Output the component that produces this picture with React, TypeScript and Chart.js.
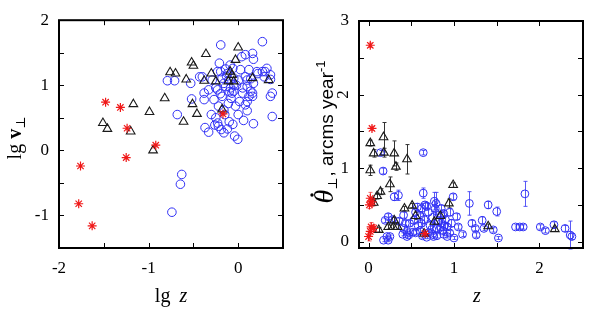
import React, { useEffect, useRef } from 'react';
import { Chart, registerables } from 'chart.js';
Chart.register(...registerables);

const SERIF = '"Liberation Serif", "DejaVu Serif", serif';
const SANS = '"Liberation Sans", Arial, sans-serif';

// ---------- Left panel: lg z vs lg v_perp ----------
const leftXTicks = [-2, -1, 0];
const leftXMinor = [-1.5, -0.5];
const leftYTicks = [-1, 0, 1, 2];
const leftYMinor = [-1.5, -0.5, 0.5, 1.5];

const leftRedLgZ = [-1.48, -1.315, -1.24, -0.92, -0.17, -1.25, -1.76, -1.78, -1.63];
const leftRedLgV = [0.74, 0.66, 0.34, 0.08, 0.56, -0.11, -0.24, -0.82, -1.16];

const leftTriLgZ = [-1.51, -1.46, -1.17, -1.2, -0.99, -0.82, -0.95, -0.61, -0.76, -0.7, -0.58, -0.52, -0.5, -0.51, -0.46, -0.36, -0.38, -0.3, -0.25, -0.18, -0.09, -0.05, -0.03, 0.0, 0.16, 0.34, -0.11, -0.07];
const leftTriLgV = [0.42, 0.33, 0.71, 0.29, 0.59, 0.8, 0.0, 0.44, 1.2, 1.18, 1.09, 1.35, 1.3, 0.71, 0.56, 1.48, 1.07, 1.18, 1.06, 0.63, 1.21, 1.06, 1.39, 1.58, 1.11, 1.08, 1.06, 1.16];

const leftCircLgZ = [-0.195, 0.27, -0.21, -0.09, 0.08, 0.16, 0.17, 0.04, 0.12, 0.025, -0.06, -0.79, -0.71, -0.43, -0.53, -0.4, -0.38, -0.38, -0.52, -0.68, -0.27, -0.18, -0.085, -0.07, -0.05, 0.015, 0.1, 0.12, 0.16, 0.1, 0.36, 0.38, 0.38, 0.17, -0.06, -0.33, -0.37, -0.25, -0.23, -0.22, -0.19, -0.16, -0.04, -0.005, -0.29, -0.195, -0.18, -0.105, -0.05, 0.005, 0.1, 0.21, 0.27, 0.32, 0.36, 0.29, 0.17, 0.1, -0.23, -0.16, -0.33, -0.25, -0.14, -0.05, 0.14, 0.16, 0.08, -0.03, -0.63, -0.645, -0.74, -0.23, -0.12, 0.08, 0.22, 0.3, -0.14, -0.2, -0.1, -0.08, -0.11, 0.05, 0.05, -0.02, -0.3, -0.15, -0.1, 0.0, -0.26, -0.12, 0.06, -0.13, 0.14, 0.36, -0.22, -0.16];
const leftCircLgV = [1.62, 1.67, 1.34, 1.31, 1.47, 1.49, 1.4, 1.44, 1.24, 1.24, 1.26, 1.07, 1.07, 1.13, 1.03, 1.13, 0.88, 0.78, 0.79, 0.55, 0.78, 0.83, 0.96, 0.88, 1.01, 0.75, 0.75, 0.83, 0.88, 0.61, 0.83, 0.88, 0.52, 0.41, 0.4, 0.28, 0.35, 0.5, 0.42, 0.37, 0.32, 0.27, 0.22, 0.17, 1.08, 1.21, 1.11, 1.08, 1.11, 1.08, 1.08, 1.21, 1.21, 1.26, 1.16, 1.13, 1.03, 0.98, 0.93, 1.03, 0.93, 0.96, 0.98, 0.91, 0.91, 0.83, 0.7, 0.68, -0.37, -0.52, -0.95, 1.21, 1.18, 1.13, 1.18, 1.21, 1.25, 0.87, 0.9, 0.8, 0.72, 0.88, 0.96, 1.0, 0.55, 0.55, 0.44, 0.55, 0.39, 0.33, 0.46, 1.14, 1.1, 1.09, 0.68, 0.62];

// ---------- Right panel: z vs theta-dot ----------
const rightXTicks = [0, 1, 2];
const rightXMinor = [0.5, 1.5];
const rightYTicks = [0, 1, 2, 3];
const rightYMinor = [0.5, 1.5, 2.5];

const rightRedZ = [0.02, 0.04, 0.02, 0.04, 0.01, 0.03, 0.02, 0.0, 0.06, 0.66];
const rightRedT = [2.67, 1.54, 0.59, 0.54, 0.5, 0.2, 0.14, 0.07, 0.18, 0.11];
const rightRedErr = [0.03, 0.03, 0.08, 0.06, 0.05, 0.06, 0.05, 0.06, 0.05, 0.03];

const rightTriZ = [0.02, 0.06, 0.175, 0.18, 0.3, 0.32, 0.45, 0.02, 0.25, 0.14, 0.1, 0.06, 0.42, 0.51, 0.55, 0.3, 0.23, 0.29, 0.34, 0.12, 0.84, 0.77, 0.94, 0.99, 1.4, 2.18, 0.65];
const rightTriT = [1.34, 1.2, 1.42, 1.21, 1.2, 1.02, 1.12, 0.97, 0.78, 0.68, 0.62, 0.53, 0.45, 0.49, 0.35, 0.29, 0.2, 0.2, 0.2, 0.16, 0.35, 0.27, 0.52, 0.77, 0.21, 0.17, 0.11];
const rightTriErr = [0.04, 0.05, 0.2, 0.06, 0.17, 0.05, 0.2, 0.07, 0.1, 0.04, 0.04, 0.04, 0.03, 0.03, 0.05, 0.04, 0.03, 0.03, 0.03, 0.03, 0.05, 0.04, 0.06, 0.03, 0.03, 0.03, 0.02];

const rightCircZ = [0.14, 0.64, 0.17, 0.35, 0.3, 0.64, 1.18, 1.4, 1.5, 1.83, 1.03, 0.79, 0.99, 0.195, 0.175, 0.23, 0.45, 0.41, 0.57, 0.62, 0.66, 1.21, 1.25, 1.26, 1.33, 1.35, 1.46, 1.52, 1.0, 0.92, 1.72, 1.77, 1.81, 2.01, 2.07, 2.17, 2.3, 2.36, 2.38, 0.85, 0.88, 0.23, 0.28, 0.215, 0.25, 0.41, 0.45, 0.47, 0.53, 0.55, 0.6, 0.65, 0.7, 0.72, 0.75, 0.78, 0.8, 0.82, 0.85, 0.87, 0.9, 0.92, 0.95, 0.6, 0.63, 0.68, 0.7, 0.58, 0.55, 0.75, 0.8, 0.85, 0.89, 0.97, 0.77, 0.68, 0.52, 0.74, 0.88, 0.62, 0.48, 0.36, 0.4, 0.95, 1.1, 1.05, 0.43, 0.76, 0.84];
const rightCircT = [1.21, 1.21, 0.96, 0.63, 0.61, 0.66, 0.52, 0.5, 0.41, 0.65, 0.34, 0.52, 0.61, 0.29, 0.02, 0.02, 0.07, 0.36, 0.47, 0.45, 0.5, 0.25, 0.18, 0.09, 0.29, 0.18, 0.16, 0.05, 0.05, 0.07, 0.2, 0.2, 0.2, 0.2, 0.15, 0.23, 0.18, 0.09, 0.07, 0.45, 0.38, 0.34, 0.3, 0.07, 0.07, 0.18, 0.14, 0.09, 0.29, 0.4, 0.36, 0.3, 0.4, 0.22, 0.33, 0.45, 0.18, 0.28, 0.25, 0.15, 0.3, 0.2, 0.12, 0.15, 0.08, 0.06, 0.12, 0.22, 0.12, 0.1, 0.08, 0.35, 0.22, 0.25, 0.55, 0.48, 0.13, 0.17, 0.1, 0.25, 0.25, 0.28, 0.1, 0.4, 0.1, 0.2, 0.25, 0.07, 0.2];
const rightCircErr = [0.03, 0.03, 0.04, 0.07, 0.05, 0.07, 0.16, 0.05, 0.06, 0.17, 0.04, 0.15, 0.04, 0.03, 0.02, 0.02, 0.02, 0.04, 0.05, 0.07, 0.04, 0.04, 0.03, 0.03, 0.05, 0.03, 0.03, 0.02, 0.02, 0.02, 0.03, 0.03, 0.03, 0.03, 0.03, 0.04, 0.04, 0.19, 0.04, 0.05, 0.05, 0.04, 0.03, 0.02, 0.02, 0.03, 0.03, 0.02, 0.05, 0.04, 0.05, 0.06, 0.12, 0.05, 0.08, 0.1, 0.05, 0.06, 0.05, 0.04, 0.05, 0.04, 0.03, 0.03, 0.03, 0.02, 0.03, 0.04, 0.03, 0.03, 0.03, 0.08, 0.04, 0.05, 0.12, 0.05, 0.03, 0.04, 0.02, 0.04, 0.04, 0.04, 0.02, 0.05, 0.03, 0.03, 0.04, 0.03, 0.04];

const BLUE = '#2f2ff5';
const BLACK = '#1a1a1a';
const RED = '#f01818';

function pts(xs: number[], ys: number[]) {
  return xs.map((x, i) => ({ x, y: ys[i] }));
}

type Part = { text: string; font: string; dy?: number; gap?: number; dot?: boolean };

function drawRich(ctx: CanvasRenderingContext2D, parts: Part[], cx: number, cy: number, rotate: boolean) {
  ctx.save();
  ctx.translate(cx, cy);
  if (rotate) ctx.rotate(-Math.PI / 2);
  ctx.fillStyle = '#000';
  ctx.textBaseline = 'alphabetic';
  ctx.textAlign = 'left';
  const widths = parts.map((p) => {
    ctx.font = p.font;
    return ctx.measureText(p.text).width + (p.gap || 0);
  });
  const total = widths.reduce((a, b) => a + b, 0);
  let x = -total / 2;
  parts.forEach((p, i) => {
    ctx.font = p.font;
    ctx.fillText(p.text, x, p.dy || 0);
    if (p.dot) {
      const w = ctx.measureText(p.text).width;
      ctx.beginPath();
      ctx.arc(x + w * 0.62, -21, 1.7, 0, Math.PI * 2);
      ctx.fill();
    }
    x += widths[i];
  });
  ctx.restore();
}

function frameTicksPlugin(xs: number[], ys: number[], rotatedY?: number) {
  return {
    id: 'frameTicks',
    afterDraw(chart: any) {
      const { ctx, chartArea } = chart;
      const sx = chart.scales.x;
      const sy = chart.scales.y;
      const L = 5;
      ctx.save();
      ctx.strokeStyle = '#000';
      ctx.lineWidth = 1;
      ctx.beginPath();
      xs.forEach((v) => {
        const px = Math.round(sx.getPixelForValue(v)) + 0.5;
        ctx.moveTo(px, chartArea.bottom);
        ctx.lineTo(px, chartArea.bottom - L);
        ctx.moveTo(px, chartArea.top);
        ctx.lineTo(px, chartArea.top + L);
      });
      ys.forEach((v) => {
        const py = Math.round(sy.getPixelForValue(v)) + 0.5;
        ctx.moveTo(chartArea.left, py);
        ctx.lineTo(chartArea.left + L, py);
        ctx.moveTo(chartArea.right, py);
        ctx.lineTo(chartArea.right - L, py);
      });
      ctx.stroke();
      ctx.lineWidth = 2;
      ctx.strokeRect(chartArea.left, chartArea.top, chartArea.right - chartArea.left, chartArea.bottom - chartArea.top);
      if (rotatedY !== undefined) {
        ctx.save();
        ctx.translate(chartArea.left - 15, sy.getPixelForValue(rotatedY));
        ctx.rotate(-Math.PI / 2);
        ctx.font = '17px ' + SERIF;
        ctx.fillStyle = '#000';
        ctx.textAlign = 'center';
        ctx.textBaseline = 'middle';
        ctx.fillText(String(rotatedY), 0, 0);
        ctx.restore();
      }
      ctx.restore();
    },
  };
}

const errorBarPlugin = {
  id: 'errorBars',
  beforeDatasetsDraw(chart: any) {
    const { ctx } = chart;
    const sy = chart.scales.y;
    const sx = chart.scales.x;
    ctx.save();
    ctx.lineWidth = 1;
    for (let d = chart.data.datasets.length - 1; d >= 0; d--) {
      const ds: any = chart.data.datasets[d];
      if (!ds.errors) continue;
      ctx.strokeStyle = ds.errColor;
      ctx.beginPath();
      ds.data.forEach((p: any, i: number) => {
        const e = ds.errors[i];
        const px = Math.round(sx.getPixelForValue(p.x)) + 0.5;
        const y1 = sy.getPixelForValue(p.y + e);
        const y2 = sy.getPixelForValue(p.y - e);
        ctx.moveTo(px, y1);
        ctx.lineTo(px, y2);
        ctx.moveTo(px - 2, y1);
        ctx.lineTo(px + 2, y1);
        ctx.moveTo(px - 2, y2);
        ctx.lineTo(px + 2, y2);
      });
      ctx.stroke();
    }
    ctx.restore();
  },
};

function axisCfg(min: number, max: number, ticks: number[], fit: (s: any) => void, hideLabel?: number) {
  return {
    type: 'linear' as const,
    min,
    max,
    afterBuildTicks: (s: any) => {
      s.ticks = ticks.map((v) => ({ value: v }));
    },
    afterFit: fit,
    grid: { display: false, drawTicks: false },
    border: { display: false },
    ticks: {
      autoSkip: false,
      maxRotation: 0,
      font: { family: SERIF, size: 17 },
      color: '#000',
      padding: 10,
      callback: (v: any) => (v === hideLabel ? '' : String(v)),
    },
  };
}

function LeftChart() {
  const ref = useRef<HTMLCanvasElement>(null);
  useEffect(() => {
    const titles = {
      id: 'titles',
      afterDraw(chart: any) {
        const { ctx, chartArea } = chart;
        const cx = (chartArea.left + chartArea.right) / 2;
        drawRich(ctx, [
          { text: 'lg', font: '20px ' + SERIF, gap: 9 },
          { text: 'z', font: 'italic 20px ' + SERIF },
        ], cx, 302, false);
        drawRich(ctx, [
          { text: 'lg', font: '20px ' + SERIF, gap: 5 },
          { text: 'v', font: 'bold 20px ' + SERIF },
          { text: '⊥', font: '13px ' + SERIF, dy: 4 },
        ], 21, 138, true);
      },
    };
    const chart = new Chart(ref.current!, {
      type: 'scatter',
      data: {
        datasets: [
          { data: pts(leftRedLgZ, leftRedLgV), pointStyle: 'star', pointRadius: 4.5, borderColor: RED, backgroundColor: RED, borderWidth: 1.2 } as any,
          { data: pts(leftTriLgZ, leftTriLgV), pointStyle: 'triangle', pointRadius: 5, borderColor: BLACK, backgroundColor: 'rgba(0,0,0,0)', borderWidth: 1.1 },
          { data: pts(leftCircLgZ, leftCircLgV), pointStyle: 'circle', pointRadius: 4.3, borderColor: BLUE, backgroundColor: 'rgba(0,0,0,0)', borderWidth: 1 },
        ],
      },
      options: {
        responsive: false,
        animation: false,
        devicePixelRatio: 1,
        layout: { padding: { left: 0, right: 17, top: 20, bottom: 0 } },
        plugins: { legend: { display: false }, tooltip: { enabled: false } },
        scales: {
          x: axisCfg(-2, 0.5, leftXTicks, (s: any) => { s.height = 73; }),
          y: axisCfg(-1.5, 2, leftYTicks, (s: any) => { s.width = 59; }),
        },
      } as any,
      plugins: [frameTicksPlugin([...leftXTicks, ...leftXMinor], [...leftYTicks, ...leftYMinor]), titles],
    });
    return () => chart.destroy();
  }, []);
  return <canvas ref={ref} width={300} height={321} style={{ position: 'absolute', left: 0, top: 0 }} />;
}

function RightChart() {
  const ref = useRef<HTMLCanvasElement>(null);
  useEffect(() => {
    const titles = {
      id: 'titles',
      afterDraw(chart: any) {
        const { ctx, chartArea } = chart;
        const cx = (chartArea.left + chartArea.right) / 2 + 6;
        drawRich(ctx, [{ text: 'z', font: 'italic 20px ' + SERIF }], cx, 302, false);
        drawRich(ctx, [
          { text: 'θ', font: 'italic 28px ' + SERIF, dot: true },
          { text: '⊥', font: '13px ' + SERIF, dy: 4, gap: 1 },
          { text: ', arcms year', font: '19px ' + SANS },
          { text: '-1', font: '13px ' + SANS, dy: -8 },
        ], 33, 132, true);
      },
    };
    const chart = new Chart(ref.current!, {
      type: 'scatter',
      data: {
        datasets: [
          { data: pts(rightRedZ, rightRedT), errors: rightRedErr, errColor: 'rgba(240,40,40,0.7)', pointStyle: 'star', pointRadius: 4.5, borderColor: RED, backgroundColor: RED, borderWidth: 1.2 } as any,
          { data: pts(rightTriZ, rightTriT), errors: rightTriErr, errColor: '#333', pointStyle: 'triangle', pointRadius: 5, borderColor: BLACK, backgroundColor: 'rgba(0,0,0,0)', borderWidth: 1.1 } as any,
          { data: pts(rightCircZ, rightCircT), errors: rightCircErr, errColor: 'rgba(60,60,245,0.85)', pointStyle: 'circle', pointRadius: 3.9, borderColor: BLUE, backgroundColor: 'rgba(0,0,0,0)', borderWidth: 1 } as any,
        ],
      },
      options: {
        responsive: false,
        animation: false,
        devicePixelRatio: 1,
        layout: { padding: { left: 0, right: 27, top: 21, bottom: 0 } },
        plugins: { legend: { display: false }, tooltip: { enabled: false } },
        scales: {
          x: axisCfg(-0.112, 2.51, rightXTicks, (s: any) => { s.height = 73; }),
          y: axisCfg(-0.086, 3, rightYTicks, (s: any) => { s.width = 59; }, 2),
        },
      } as any,
      plugins: [errorBarPlugin, frameTicksPlugin([...rightXTicks, ...rightXMinor], [...rightYTicks, ...rightYMinor], 2), titles],
    });
    return () => chart.destroy();
  }, []);
  return <canvas ref={ref} width={310} height={321} style={{ position: 'absolute', left: 300, top: 0 }} />;
}

export default function App() {
  return (
    <div style={{ position: 'absolute', left: 0, top: 0, width: 610, height: 321, background: '#fff' }}>
      <LeftChart />
      <RightChart />
    </div>
  );
}
